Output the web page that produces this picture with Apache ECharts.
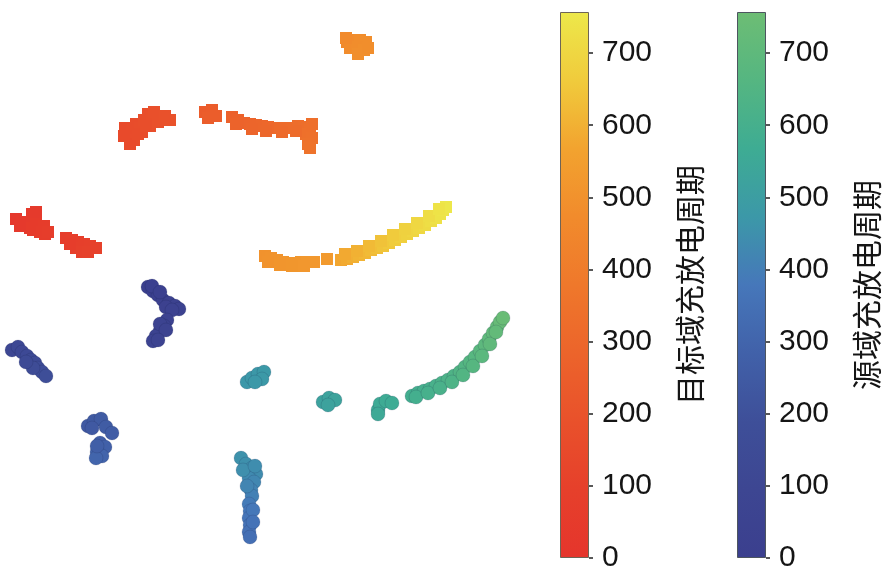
<!DOCTYPE html>
<html>
<head>
<meta charset="utf-8">
<script src="https://cdn.jsdelivr.net/npm/echarts@6/dist/echarts.min.js"></script>
<style>html,body{margin:0;padding:0;background:#fff}#c{width:885px;height:586px}</style>
</head>
<body>
<div id="c"></div>
<script>
// t-SNE embedding points: [dim1, dim2, cycle]
const targetPoints = [
  [16,219,30],[22,222,35],[27,224,40],[32,214,45],[36,218,50],[38,226,52],[33,230,55],[40,232,58],[45,234,62],[30,228,48],[44,226,60],[48,232,65],[20,226,38],[36,212,46],
  [66,238,70],[72,240,75],[78,242,80],[84,244,85],[76,248,88],[82,252,92],[90,246,95],[96,248,100],[88,252,98],[70,244,73],
  [125,128,150],[128,136,155],[132,130,158],[136,124,162],[140,128,165],[134,140,160],[144,120,170],[148,114,175],[152,118,180],[150,126,178],[158,122,185],[170,120,195],[130,144,152],[142,132,168],[124,136,151],[138,134,163],[146,126,172],[154,112,182],[165,116,190],
  [205,112,240],[212,110,245],[216,116,250],[208,118,248],
  [232,117,270],[238,120,275],[244,123,280],[250,124,285],[256,125,290],[262,126,295],[268,127,300],[274,128,305],[280,128,310],[286,128,315],[292,128,320],[298,126,325],[304,127,330],[310,129,335],[306,134,340],[312,138,345],[308,144,350],[310,148,355],[236,124,277],[252,129,287],[266,131,297],[282,132,311],[296,131,322],[312,124,337],
  [347,42,470],[353,40,475],[360,40,480],[366,42,485],[350,48,478],[357,47,482],[364,50,488],[358,54,490],[346,38,468],[368,48,486],
  [265,256,500],[271,258,505],[277,260,510],[283,262,512],[289,263,515],[295,263,518],[301,262,520],[307,262,523],[314,262,526],[327,259,532],[268,262,503],[280,265,511],[292,266,516],[304,266,521],
  [341,260,575],[347,259,585],[353,257,595],[359,255,605],[365,253,615],[371,250,625],[377,248,635],[383,246,645],[389,243,655],[395,240,665],[401,237,675],[407,234,685],[413,231,695],[419,228,705],[425,225,715],[431,221,725],[436,218,735],[440,214,742],[443,210,748],[446,207,754],
  [345,254,582],[357,251,600],[369,246,622],[381,241,642],[393,235,662],[405,229,682],[417,223,702],[429,216,722],[439,209,740]
];
const sourcePoints = [
  [148,287,10],[153,291,15],[158,295,20],[163,300,25],[169,303,30],[175,306,35],[179,309,40],[152,286,12],[160,292,20],[166,307,32],[172,310,37],
  [167,320,45],[164,326,50],[160,331,55],[156,336,58],[153,341,60],[160,324,48],[166,330,52],[158,340,59],
  [12,350,110],[18,347,115],[22,352,120],[27,356,130],[31,360,140],[35,363,150],[38,368,160],[42,372,170],[46,376,180],[33,368,155],[26,362,135],
  [88,426,240],[94,421,245],[101,419,250],[106,427,255],[112,433,260],[100,443,270],[105,447,280],[97,452,290],[102,456,295],[96,458,300],[92,428,242],[97,446,275],
  [241,458,455],[246,464,450],[252,468,445],[256,474,440],[249,478,432],[254,482,425],[251,490,415],[252,496,405],[249,504,390],[250,511,380],[249,518,370],[250,525,360],[249,532,352],[250,537,345],
  [243,470,448],[247,486,420],[255,466,443],[253,510,382],[253,522,362],
  [247,382,470],[252,378,472],[258,374,475],[264,372,478],[262,379,476],[255,382,473],
  [323,402,520],[329,398,523],[335,400,526],[328,405,522],
  [378,410,555],[380,404,558],[386,401,562],[392,403,565],[378,414,553],
  [412,396,590],[418,393,595],[424,391,600],[430,389,605],[436,386,612],[442,383,620],[448,380,628],[454,376,636],[460,372,645],[465,367,654],[470,362,663],[475,357,672],[480,351,682],[485,345,692],[489,339,702],[493,333,712],[497,327,722],[500,322,732],[503,318,742],
  [416,397,592],[428,393,603],[440,388,616],[452,382,632],[463,375,650],[473,366,668],[482,356,687],[490,344,705],[496,332,718]
];
const cycleMax = 757;
const tickValues = [0,100,200,300,400,500,600,700];
const targetColors = ['#e5352c','#e6402b','#e9512b','#ec642b','#ef782b','#f18b2c','#f2a32f','#f0cb3c','#ede84a'];
const sourceColors = ['#3b3f8e','#3d4692','#3e4f99','#4161a9','#4677ba','#3c98a8','#3eac93','#55b681','#6dbd74'];
const targetTitle = '目标域充放电周期';
const sourceTitle = '源域充放电周期';

const chart = echarts.init(document.getElementById('c'), null, {renderer: 'canvas'});
function gradient(colors) {
  return new echarts.graphic.LinearGradient(0, 1, 0, 0,
    colors.map((c, i) => ({offset: i / (colors.length - 1), color: c})));
}
const labelFont = {fontFamily: '"Liberation Sans", Arial, sans-serif', fontSize: 30, color: '#151515'};
const nameFont = {fontFamily: '"Noto Sans CJK SC", sans-serif', fontSize: 30, color: '#151515'};
function cbarY(gridIndex, title) {
  return {
    gridIndex, type: 'value', min: 0, max: cycleMax, position: 'right',
    splitLine: {show: false},
    axisLine: {show: false},
    axisTick: {show: true, length: 4, customValues: tickValues, lineStyle: {color: '#222', width: 1.5}},
    axisLabel: Object.assign({margin: 13, customValues: tickValues}, labelFont),
    name: title, nameLocation: 'middle', nameRotate: 90, nameGap: 86,
    nameTextStyle: nameFont
  };
}
chart.setOption({
  animation: false,
  backgroundColor: '#fff',
  grid: [
    {left: 0, top: 0, width: 540, height: 586},
    {left: 560, top: 12, width: 29, height: 546},
    {left: 737, top: 12, width: 29, height: 546}
  ],
  xAxis: [
    {gridIndex: 0, type: 'value', min: 0, max: 540, show: false},
    {gridIndex: 1, type: 'category', data: ['c'], show: false},
    {gridIndex: 2, type: 'category', data: ['c'], show: false}
  ],
  yAxis: [
    {gridIndex: 0, type: 'value', min: 0, max: 586, inverse: true, show: false},
    cbarY(1, targetTitle),
    cbarY(2, sourceTitle)
  ],
  visualMap: [
    {type: 'continuous', show: false, seriesIndex: 0, dimension: 2, min: 0, max: cycleMax, inRange: {color: sourceColors}},
    {type: 'continuous', show: false, seriesIndex: 1, dimension: 2, min: 0, max: cycleMax, inRange: {color: targetColors}}
  ],
  series: [
    {type: 'scatter', xAxisIndex: 0, yAxisIndex: 0, data: sourcePoints, symbol: 'circle', symbolSize: 14,
      itemStyle: {opacity: 1, borderColor: 'rgba(20,30,70,0.15)', borderWidth: 1}},
    {type: 'scatter', xAxisIndex: 0, yAxisIndex: 0, data: targetPoints, symbol: 'rect', symbolSize: 12,
      itemStyle: {opacity: 1}},
    {type: 'bar', xAxisIndex: 1, yAxisIndex: 1, data: [cycleMax], barWidth: '100%',
      itemStyle: {color: gradient(targetColors), borderColor: '#6e6456', borderWidth: 1}},
    {type: 'bar', xAxisIndex: 2, yAxisIndex: 2, data: [cycleMax], barWidth: '100%',
      itemStyle: {color: gradient(sourceColors), borderColor: '#4d5560', borderWidth: 1}}
  ]
});
</script>
</body>
</html>
